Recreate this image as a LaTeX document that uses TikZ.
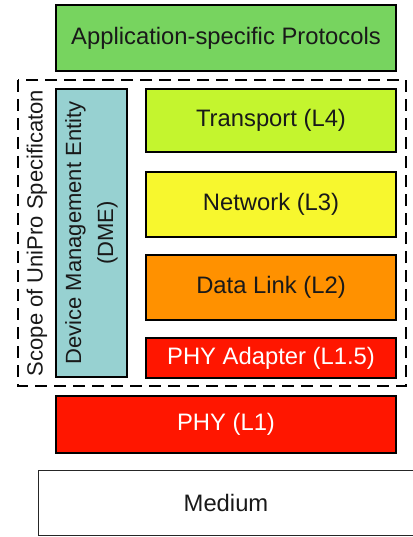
\documentclass[tikz,border=0pt]{standalone}
\usepackage{fontspec}
\setmainfont{Liberation Sans}
\begin{document}
\begin{tikzpicture}[x=1pt,y=-1pt,
  layer/.style={draw=black, line width=2pt, fill=#1, inner sep=0pt,
    font=\fontsize{23.8}{28}\selectfont, text=black!90},
  whitetext/.style={text=white},
  scopebox/.style={draw=black, line width=2pt, dash pattern=on 12pt off 7pt},
  sidetext/.style={rotate=90, font=\fontsize{22}{32}\selectfont, text=black!90, align=center}]
  \definecolor{appgreen}{HTML}{77D45F}
  \definecolor{translime}{HTML}{C4F52E}
  \definecolor{netyellow}{HTML}{F7F72E}
  \definecolor{linkorange}{HTML}{FF9100}
  \definecolor{phyred}{HTML}{FF1600}
  \definecolor{dmeteal}{HTML}{97D1D1}
  \useasboundingbox (0,0) rectangle (412,537);

  % protocol layers
  \node (app) [layer=appgreen, minimum width=340pt, minimum height=66pt] at (226,38) {Application-specific Protocols};
  \node (transport) [layer=translime, minimum width=250pt, minimum height=63pt] at (271,120.5) {Transport (L4)};
  \node (network) [layer=netyellow, minimum width=250pt, minimum height=65pt] at (271,204.5) {Network (L3)};
  \node (datalink) [layer=linkorange, minimum width=250pt, minimum height=65pt] at (271,287.5) {Data Link (L2)};
  \node (phyadapter) [layer=phyred, whitetext, minimum width=250pt, minimum height=40pt] at (271,358) {PHY Adapter (L1.5)};
  \node (phy) [layer=phyred, whitetext, minimum width=340pt, minimum height=57pt] at (226,424.5) {PHY (L1)};

  % device management entity
  \node (dme) [layer=dmeteal, minimum width=71pt, minimum height=288pt] at (91.5,233) {};
  \node (dmetext) [sidetext] at (dme.center) {Device Management Entity\\(DME)};

  % medium
  \node (medium) [draw=black!85, line width=1.5pt, minimum width=375pt, minimum height=65pt, inner sep=0pt] at (226,503) {};
  \node (mediumtext) [font=\fontsize{23.8}{28}\selectfont, text=black!90] at (medium.center) {Medium};

  % scope of the specification
  \draw[scopebox] (18,80) rectangle (406,386);
  \node (scope) [sidetext] at (37,233) {Scope of UniPro Specificaton};
\end{tikzpicture}
\end{document}
